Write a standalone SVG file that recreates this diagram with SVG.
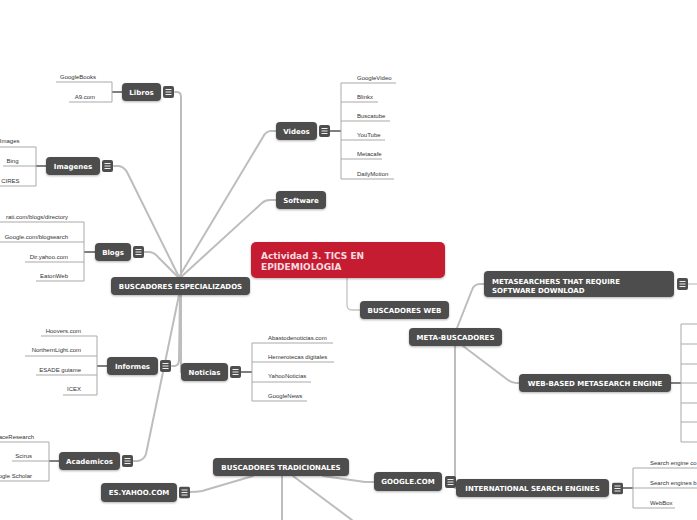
<svg xmlns="http://www.w3.org/2000/svg" xmlns:xlink="http://www.w3.org/1999/xlink" width="697" height="520" viewBox="0 0 697 520">
<style>
.n{fill:#4e4e4e}
.nt{font-family:"DejaVu Sans",Verdana,sans-serif;font-weight:bold;font-size:7px;fill:#fff;text-anchor:middle}
.it{font-family:"Liberation Sans",Arial,sans-serif;font-size:6px;fill:#333}
.ie{font-family:"Liberation Sans",Arial,sans-serif;font-size:6px;fill:#333;text-anchor:end}
.ul{stroke:#a9a9a9;stroke-width:1;fill:none}
.c{stroke:#bdbdbd;stroke-width:2;fill:none;stroke-linecap:round}
.c1{stroke:#c4c4c4;stroke-width:1.3;fill:none}
.cd{stroke:#555;stroke-width:1.5;fill:none}
</style>
<defs>
<filter id="sh" x="-10%" y="-20%" width="120%" height="160%"><feDropShadow dx="0" dy="1" stdDeviation="0.8" flood-color="#000" flood-opacity="0.3"/></filter>
<symbol id="menu" viewBox="0 0 11 12" width="11" height="12"><rect width="11" height="12" rx="2" fill="#4e4e4e"/><path d="M2.5 3.5H8.5M2.5 6H8.5M2.5 8.5H8.5" stroke="#fff" stroke-width="0.9"/></symbol>
</defs>
<rect width="697" height="520" fill="#fff"/>

<g id="connectors">
<path class="c" d="M175,92 L177,92 Q181,92 181,97 L181,277"/>
<path class="c" d="M114,166 L119,166 Q124,167 127,172 L179,277"/>
<path class="c" d="M144,252 L150,252 Q155,253 158,257 L178,277"/>
<path class="c" d="M179,277 L263,137 Q266,131 271,131 L276,131"/>
<path class="c" d="M181,277 L262,203 Q265,200 270,200 L276,200"/>
<path class="c" d="M172,366 L175,366 Q179,365 179,360 L180,295"/>
<path class="c" d="M181,295 L181,372"/>
<path class="c" d="M133,461 L138,461 Q144,460 146,454 L179,295"/>
<path class="c1" d="M347,278 L347,305 Q347,310 352,310 L360,310"/>
<path class="c" d="M457,328 L472,290 Q474,284 480,284 L484,284"/>
<path class="c" d="M463,346 L508,380 Q512,383 516,383 L519,383"/>
<path class="c" d="M455,346 L455,488 L456,488"/>
<path class="c" d="M253,476 L202,491 Q197,492 190,492"/>
<path class="c" d="M323,476 L365,482 Q368,482 374,482"/>
<path class="c" d="M282,476 L282,520"/>
<path class="c" d="M293,476 L352,520"/>
<path class="c1" d="M688,284 L697,284"/>
<path class="cd" d="M122,92 H112"/>
<path class="ul" d="M112,82 V102 M56,82 H112 M69,102 H112"/>
<path class="cd" d="M46,166 H36"/>
<path class="ul" d="M36,147 V186 M0,147 H36 M3,166 H36 M0,186 H36"/>
<path class="cd" d="M95,252 H84"/>
<path class="ul" d="M84,222 V281 M0,222 H84 M0,242 H84 M25,262 H84 M36,281 H84"/>
<path class="cd" d="M107,366 H97"/>
<path class="ul" d="M97,336 V395 M41,336 H97 M25,356 H97 M36,375 H97 M63,395 H97"/>
<path class="cd" d="M59,461 H49"/>
<path class="ul" d="M49,442 V481 M0,442 H49 M12,461 H49 M0,481 H49"/>
<path class="cd" d="M241,372 H252"/>
<path class="ul" d="M252,343 V401 M252,343 H333 M252,362 H334 M252,382 H311 M252,401 H307"/>
<path class="cd" d="M330,131 H341"/>
<path class="ul" d="M341,83 V179 M341,83 H396 M341,102 H378 M341,121 H390 M341,140 H385 M341,159 H382 M341,179 H394"/>
<path class="cd" d="M671,383 H681"/>
<path class="ul" d="M681,324 V442 M681,324 H697 M681,344 H697 M681,364 H697 M681,383 H697 M681,403 H697 M681,422 H697 M681,442 H697"/>
<path class="cd" d="M622,488 H633"/>
<path class="ul" d="M633,468 V508 M633,468 H697 M633,488 H697 M633,508 H675"/>
</g>

<g id="libros-items">
<text class="ie" x="96" y="79">GoogleBooks</text>
<text class="ie" x="95" y="98.5">A9.com</text>
</g>
<g id="imagenes-items">
<text class="ie" x="19.5" y="143">Images</text>
<text class="ie" x="18.5" y="162.5">Bing</text>
<text class="ie" x="19.5" y="182.5">CIRES</text>
</g>
<g id="blogs-items">
<text class="ie" x="68" y="218.5">rati.com/blogs/directory</text>
<text class="ie" x="68" y="238.5">Google.com/blogsearch</text>
<text class="ie" x="68" y="258.5">Dir.yahoo.com</text>
<text class="ie" x="68" y="277.5">EatonWeb</text>
</g>
<g id="informes-items">
<text class="ie" x="81" y="332.5">Hoovers.com</text>
<text class="ie" x="81" y="352">NorthernLight.com</text>
<text class="ie" x="81" y="371.5">ESADE guiame</text>
<text class="ie" x="81" y="391">ICEX</text>
</g>
<g id="academicos-items">
<text class="ie" x="34" y="438.5">aceResearch</text>
<text class="ie" x="32" y="457.5">Scirus</text>
<text class="ie" x="32" y="477.5">ogle Scholar</text>
</g>
<g id="noticias-items">
<text class="it" x="268" y="339.5">Abastodenoticias.com</text>
<text class="it" x="268" y="358.5">Hemerotecas digitales</text>
<text class="it" x="268" y="378">YahooNoticias</text>
<text class="it" x="268" y="397.5">GoogleNews</text>
</g>
<g id="videos-items">
<text class="it" x="357" y="79.5">GoogleVideo</text>
<text class="it" x="357" y="98.5">Blinkx</text>
<text class="it" x="357" y="117.5">Buscatube</text>
<text class="it" x="357" y="136.5">YouTube</text>
<text class="it" x="357" y="155.5">Metacafe</text>
<text class="it" x="357" y="175.5">DailyMotion</text>
</g>
<g id="international-items">
<text class="it" x="650" y="465">Search engine co</text>
<text class="it" x="650" y="485">Search engines b</text>
<text class="it" x="650" y="505">WebBox</text>
</g>

<g id="libros"><rect class="n" filter="url(#sh)" x="122" y="83" width="39" height="18" rx="4"/><text class="nt" x="141.5" y="94.5">Libros</text><use xlink:href="#menu" x="163" y="86"/></g>
<g id="imagenes"><rect class="n" filter="url(#sh)" x="46" y="157" width="54" height="18" rx="4"/><text class="nt" x="73" y="168.5">Imagenes</text><use xlink:href="#menu" x="102" y="160"/></g>
<g id="blogs"><rect class="n" filter="url(#sh)" x="95" y="243" width="36" height="18" rx="4"/><text class="nt" x="113" y="254.5">Blogs</text><use xlink:href="#menu" x="133" y="246"/></g>
<g id="especializados"><rect class="n" filter="url(#sh)" x="111" y="277" width="139" height="18" rx="4"/><text class="nt" x="180.5" y="288.5">BUSCADORES ESPECIALIZADOS</text></g>
<g id="informes"><rect class="n" filter="url(#sh)" x="107" y="357" width="51" height="18" rx="4"/><text class="nt" x="132.5" y="368.5">Informes</text><use xlink:href="#menu" x="160" y="360"/></g>
<g id="noticias"><rect class="n" filter="url(#sh)" x="181" y="363" width="47" height="18" rx="4"/><text class="nt" x="204.5" y="374.5">Noticias</text><use xlink:href="#menu" x="230" y="366"/></g>
<g id="academicos"><rect class="n" filter="url(#sh)" x="59" y="452" width="61" height="18" rx="4"/><text class="nt" x="89.5" y="463.5">Academicos</text><use xlink:href="#menu" x="122" y="455"/></g>
<g id="esyahoo"><rect class="n" filter="url(#sh)" x="101" y="483" width="76" height="19" rx="4"/><text class="nt" x="139" y="495">ES.YAHOO.COM</text><use xlink:href="#menu" x="179" y="486.5"/></g>
<g id="videos"><rect class="n" filter="url(#sh)" x="276" y="122" width="41" height="18" rx="4"/><text class="nt" x="296.5" y="133.5">Videos</text><use xlink:href="#menu" x="319" y="125"/></g>
<g id="software"><rect class="n" filter="url(#sh)" x="276" y="191" width="50" height="18" rx="4"/><text class="nt" x="301" y="202.5">Software</text></g>
<g id="title"><rect fill="#c61f33" filter="url(#sh)" x="251" y="242" width="194" height="36" rx="5"/><text font-family="DejaVu Sans,Verdana,sans-serif" font-weight="bold" font-size="9px" fill="#f7dde0"><tspan x="261" y="258.5">Actividad 3. TICS EN</tspan><tspan x="261" y="269.5">EPIDEMIOLOGIA</tspan></text></g>
<g id="buscadoresweb"><rect class="n" filter="url(#sh)" x="360" y="301" width="89" height="18" rx="4"/><text class="nt" x="404.5" y="312.5">BUSCADORES WEB</text></g>
<g id="metabuscadores"><rect class="n" filter="url(#sh)" x="409" y="328" width="93" height="18" rx="4"/><text class="nt" x="455.5" y="339.5">META-BUSCADORES</text></g>
<g id="metasearchers"><rect class="n" filter="url(#sh)" x="484" y="271" width="190" height="26" rx="4"/><text class="nt" style="text-anchor:start"><tspan x="492" y="283.5">METASEARCHERS THAT REQUIRE</tspan><tspan x="492" y="292.5">SOFTWARE DOWNLOAD</tspan></text><use xlink:href="#menu" x="677" y="278"/></g>
<g id="webbased"><rect class="n" filter="url(#sh)" x="519" y="374" width="152" height="18" rx="4"/><text class="nt" x="595" y="385.5">WEB-BASED METASEARCH ENGINE</text></g>
<g id="google"><rect class="n" filter="url(#sh)" x="374" y="472" width="68" height="19" rx="4"/><text class="nt" x="408" y="484">GOOGLE.COM</text><use xlink:href="#menu" x="445" y="476"/></g>
<g id="international"><rect class="n" filter="url(#sh)" x="456" y="479" width="153" height="18" rx="4"/><text class="nt" x="532.5" y="490.5">INTERNATIONAL SEARCH ENGINES</text><use xlink:href="#menu" x="612" y="482.5"/></g>
<g id="tradicionales"><rect class="n" filter="url(#sh)" x="213" y="458" width="136" height="18" rx="4"/><text class="nt" x="281" y="469.5">BUSCADORES TRADICIONALES</text></g>
</svg>
